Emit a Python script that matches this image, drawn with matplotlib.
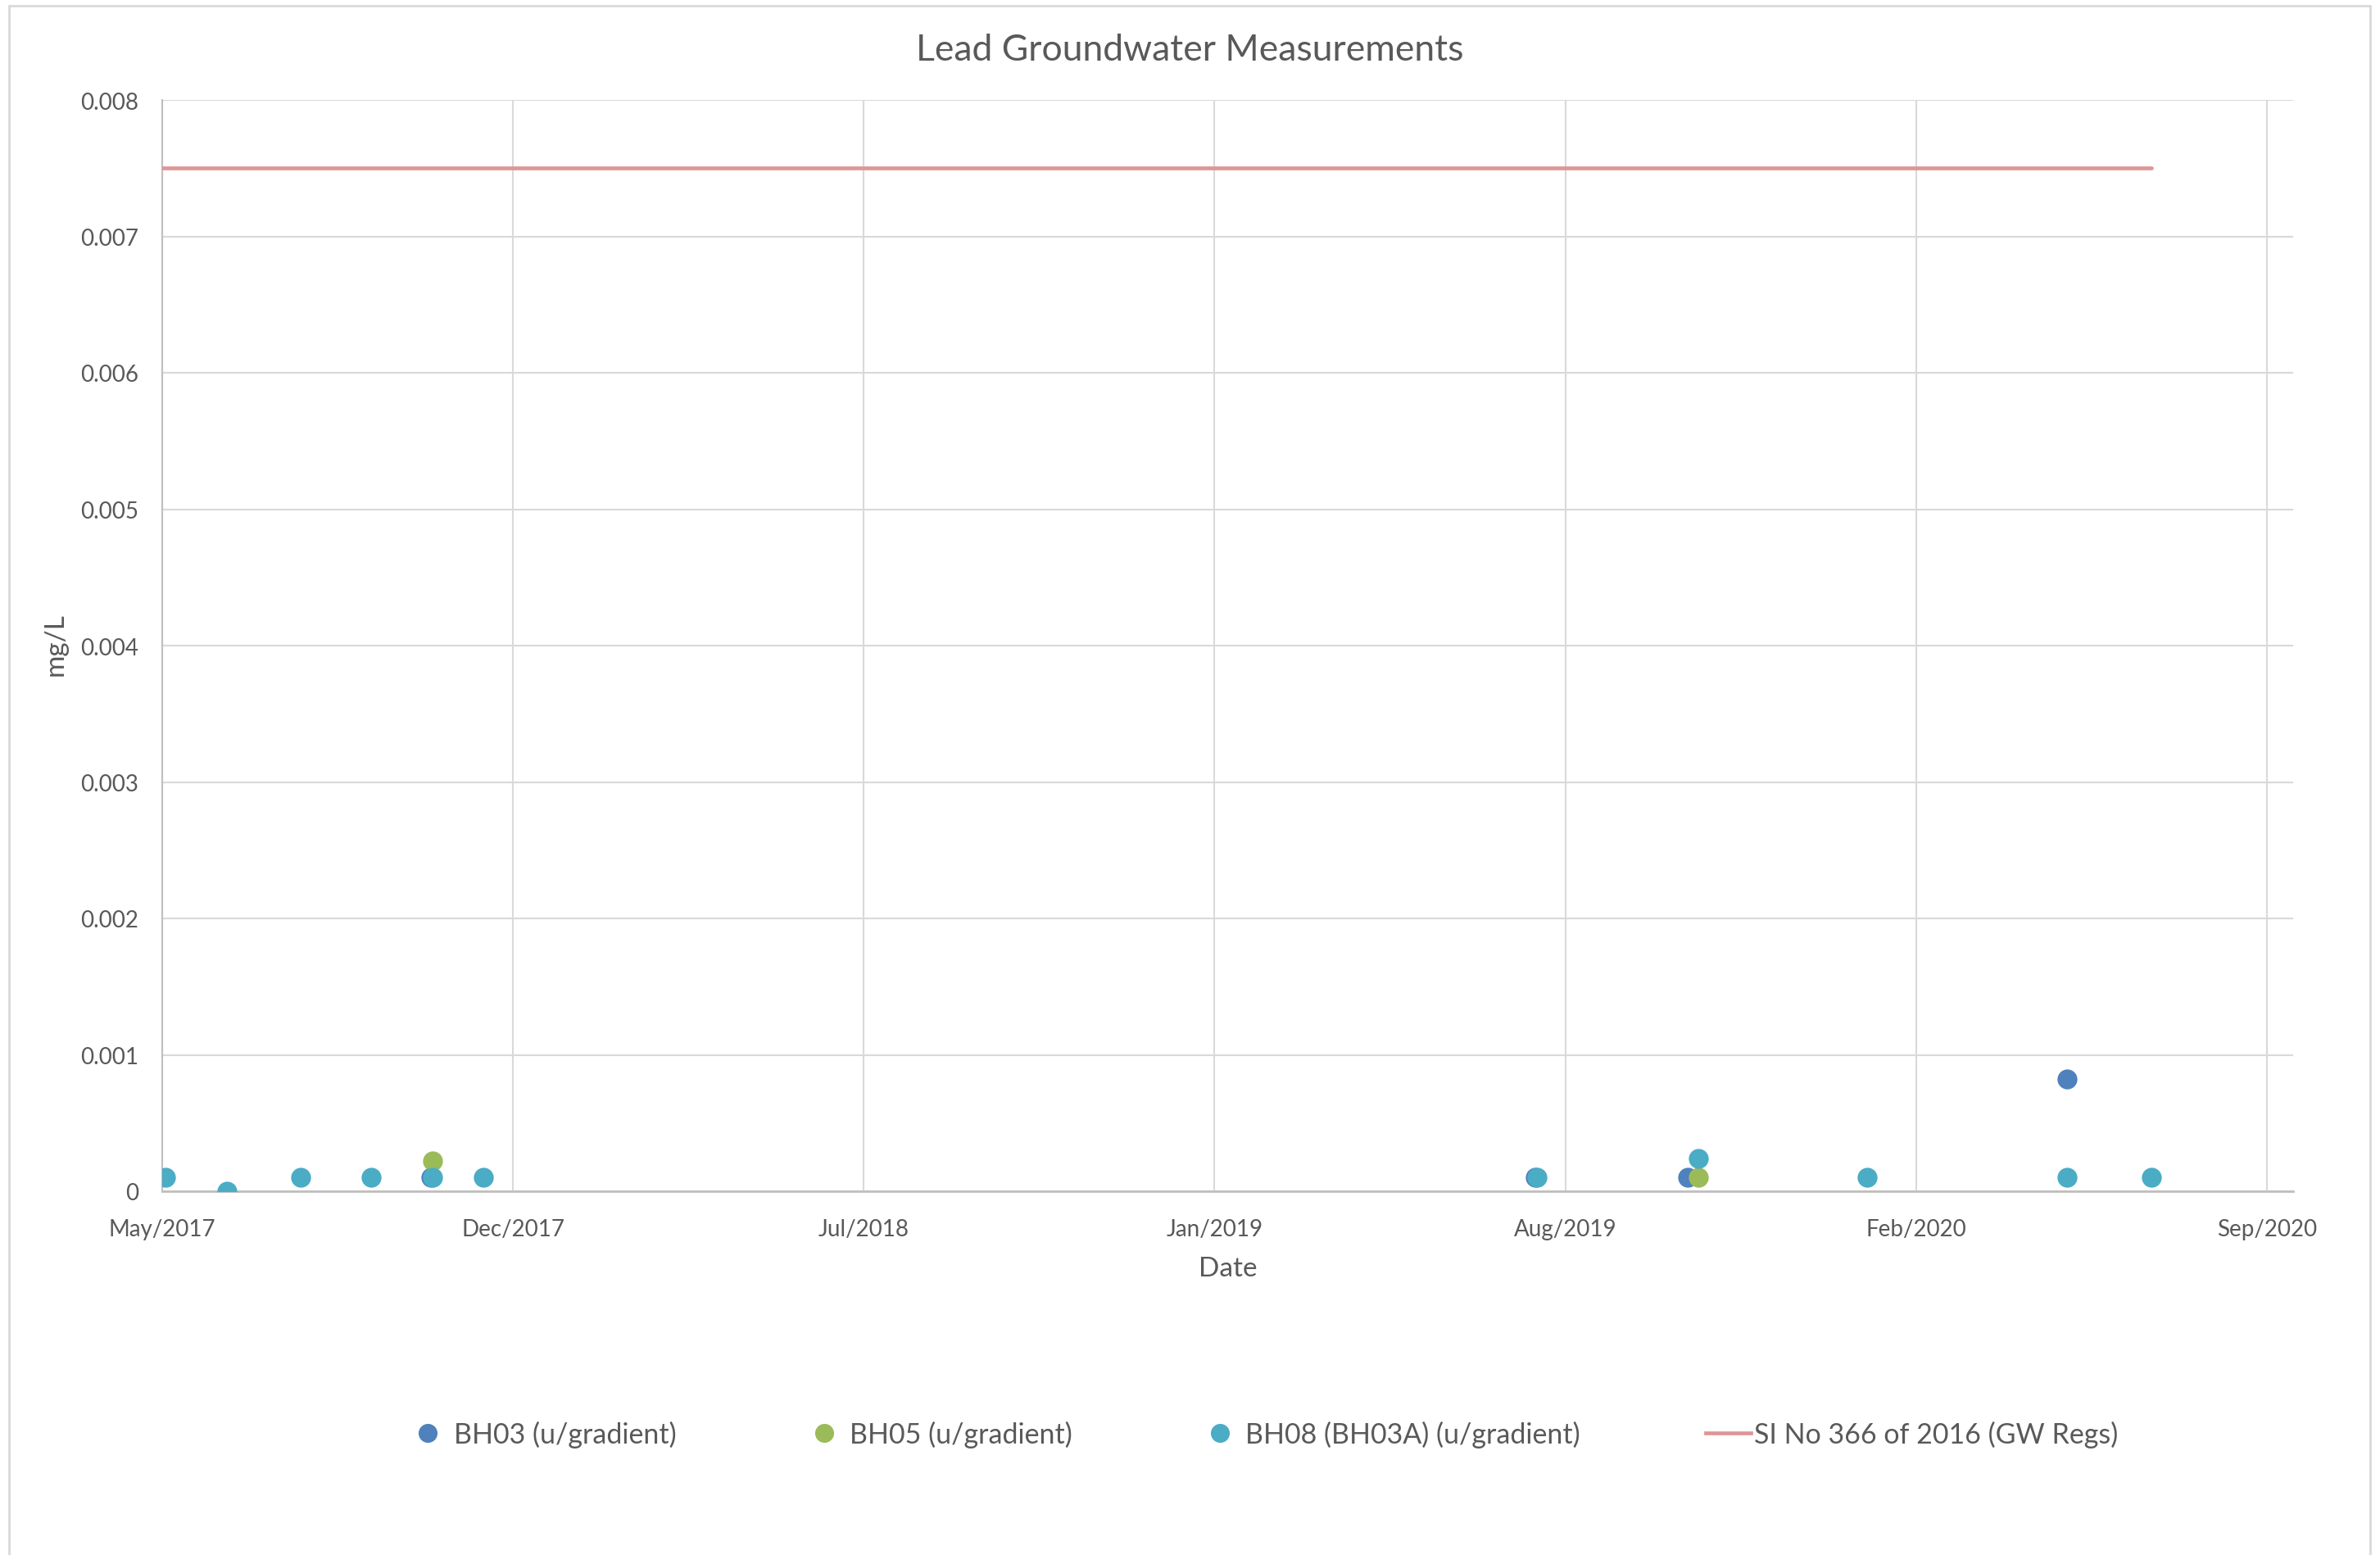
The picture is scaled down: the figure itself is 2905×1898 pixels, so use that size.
import numpy as np
import matplotlib
matplotlib.use("Agg")
import matplotlib.pyplot as plt
import matplotlib.dates as mdates
from matplotlib.lines import Line2D
from matplotlib.patches import Rectangle

plt.rcParams['font.family'] = ['Lato', 'DejaVu Sans']

# data
dates_bh03 = ['2017-10-28', '2019-07-20', '2019-10-15', '2020-05-18']
vals_bh03 = [0.0001, 0.0001, 0.0001, 0.00082]

dates_bh05 = ['2017-10-29', '2019-10-21']
vals_bh05 = [0.00022, 0.0001]

dates_bh08 = ['2017-05-30', '2017-07-04', '2017-08-15', '2017-09-24', '2017-10-29',
              '2017-11-27', '2019-07-21', '2019-10-21', '2020-01-25', '2020-05-18',
              '2020-07-05']
vals_bh08 = [0.0001, 0.0, 0.0001, 0.0001, 0.0001, 0.0001, 0.0001, 0.00024,
             0.0001, 0.0001, 0.0001]

dates_limit = ['2017-05-28', '2020-07-05']
vals_limit = [0.0075, 0.0075]

labels = ['BH03 (u/gradient)', 'BH05 (u/gradient)', 'BH08 (BH03A) (u/gradient)',
          'SI No 366 of 2016 (GW Regs)']
colors = ['#4F81BD', '#9BBB59', '#4BACC6', '#DF9696']

axis_start = np.datetime64('2017-05-28')
tick_step = 200  # days between major ticks
y_ticks = [0, 0.001, 0.002, 0.003, 0.004, 0.005, 0.006, 0.007, 0.008]
y_ticklabels = ['0', '0.001', '0.002', '0.003', '0.004', '0.005', '0.006', '0.007', '0.008']

txt = '#595959'
grid = '#D9D9D9'

W, H = 2905, 1899
fig = plt.figure(figsize=(W / 100, H / 100), dpi=100)
ax = fig.add_axes([198 / W, 1 - 1455 / H, (2799 - 198) / W, (1455 - 123) / H])

def d(lst):
    return np.array(lst, dtype='datetime64[D]')

ms = 17.5
ax.plot(d(dates_bh03), vals_bh03, 'o', color=colors[0], ms=ms, mew=0, zorder=3)
ax.plot(d(dates_bh05), vals_bh05, 'o', color=colors[1], ms=ms, mew=0, zorder=4)
ax.plot(d(dates_bh08), vals_bh08, 'o', color=colors[2], ms=ms, mew=0, zorder=5)
ax.plot(d(dates_limit), vals_limit, '-', color=colors[3], lw=3.4,
        solid_capstyle='round', zorder=6)

xticks = [axis_start + np.timedelta64(k * tick_step, 'D') for k in range(7)]
ax.set_xlim(axis_start, axis_start + np.timedelta64(1215, 'D'))
ax.set_xticks(xticks)
ax.xaxis.set_major_formatter(mdates.DateFormatter('%b/%Y'))
ax.set_ylim(0, 0.008)
ax.set_yticks(y_ticks)
ax.set_yticklabels(y_ticklabels)

ax.grid(True, color=grid, lw=1.5)
ax.set_axisbelow(True)
for s in ['top', 'right']:
    ax.spines[s].set_visible(False)
ax.spines['bottom'].set_color('#BFBFBF')
ax.spines['bottom'].set_linewidth(2)
ax.spines['left'].set_color('#BFBFBF')
ax.spines['left'].set_linewidth(1.5)
ax.tick_params(length=0, labelsize=20, colors=txt)
ax.tick_params(axis='y', pad=21)
ax.tick_params(axis='x', pad=24)

fig.text(1452 / W, 1 - 62 / H, 'Lead Groundwater Measurements', ha='center', va='center',
         fontsize=32, color=txt)
fig.text(1499 / W, 1 - 1549 / H, 'Date', ha='center', va='center', fontsize=24, color=txt)
fig.text(68 / W, 1 - 787 / H, 'mg/L', ha='center', va='center', rotation=90,
         fontsize=24, color=txt)

handles = [Line2D([], [], ls='', marker='o', color=colors[i], ms=ms * 0.95, mew=0) for i in range(3)]
handles.append(Line2D([], [], color=colors[3], lw=3.4))
ax.legend(handles, labels, loc='center', bbox_to_anchor=(1540 / W, 1 - 1751 / H),
          bbox_transform=fig.transFigure, ncol=4, frameon=False, fontsize=24.5,
          labelcolor=txt, handlelength=1.6, handletextpad=0.12, columnspacing=4.5)

fig.patches.append(Rectangle((11 / W, -0.01), (2893 - 11) / W, 1 - 8 / H + 0.01,
                             transform=fig.transFigure, fill=False, ec=grid, lw=2))

fig.savefig('out.png', dpi=100)
